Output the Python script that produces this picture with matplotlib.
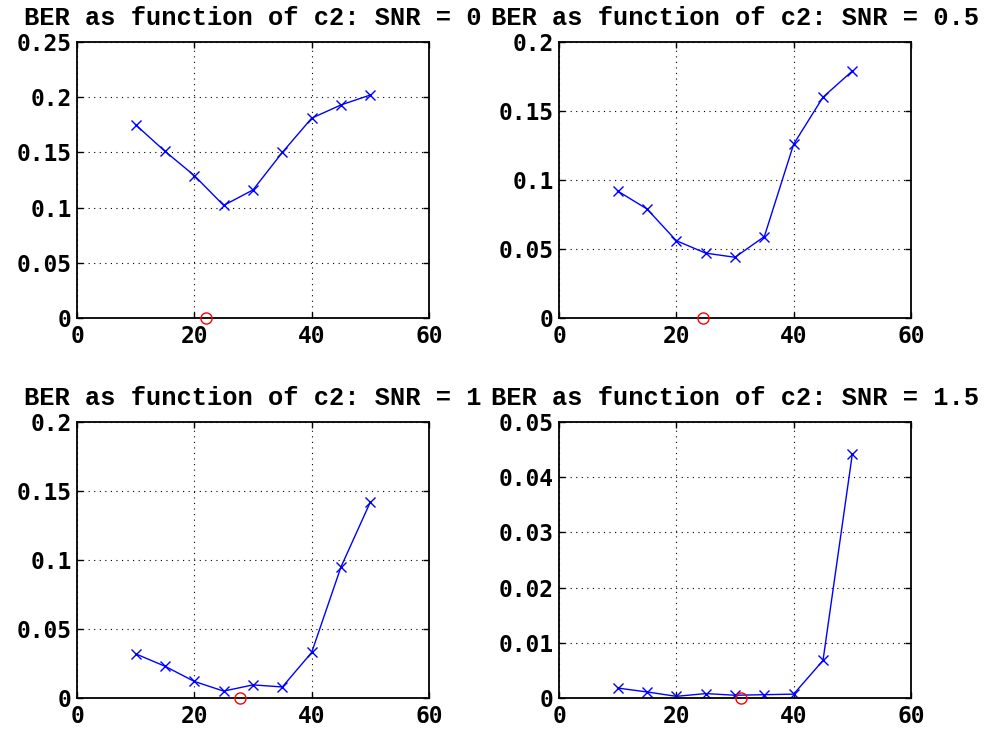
import matplotlib
matplotlib.use("Agg")
import matplotlib.pyplot as plt

c2 = [10, 15, 20, 25, 30, 35, 40, 45, 50]
snr_labels = ["0", "0.5", "1", "1.5"]
ber_snr0 = [0.175, 0.151, 0.129, 0.102, 0.116, 0.150, 0.181, 0.193, 0.202]
ber_snr05 = [0.092, 0.079, 0.056, 0.047, 0.044, 0.059, 0.126, 0.160, 0.179]
ber_snr1 = [0.032, 0.023, 0.012, 0.005, 0.0095, 0.008, 0.033, 0.095, 0.142]
ber_snr15 = [0.0018, 0.0011, 0.0003, 0.0008, 0.0005, 0.0006, 0.0007, 0.0068, 0.0442]
best_c2 = [22.0, 24.6, 27.7, 31.0]
ylims = [0.25, 0.2, 0.2, 0.05]
yticks = [
    [0, 0.05, 0.1, 0.15, 0.2, 0.25],
    [0, 0.05, 0.1, 0.15, 0.2],
    [0, 0.05, 0.1, 0.15, 0.2],
    [0, 0.01, 0.02, 0.03, 0.04, 0.05],
]
ytick_labels = [
    ["0", "0.05", "0.1", "0.15", "0.2", "0.25"],
    ["0", "0.05", "0.1", "0.15", "0.2"],
    ["0", "0.05", "0.1", "0.15", "0.2"],
    ["0", "0.01", "0.02", "0.03", "0.04", "0.05"],
]
xticks = [0, 20, 40, 60]
series = [ber_snr0, ber_snr05, ber_snr1, ber_snr15]

fig = plt.figure(figsize=(9.9, 7.32), dpi=100)
W, H = 990, 732
boxes = [(77, 42), (559, 42), (77, 422), (559, 422)]
aw, ah = 352, 276

tick_font = dict(family=["DejaVu Sans Mono"], weight="bold", size=16.5)
title_font = dict(family=["Liberation Mono"], weight="bold", size=18.3)

for i in range(4):
    l, t = boxes[i]
    ax = fig.add_axes([l / W, 1 - (t + ah) / H, aw / W, ah / H])
    ax.plot(c2, series[i], color="blue", marker="x", markersize=7,
            linewidth=1, markeredgewidth=1)
    ax.plot([best_c2[i]], [0], marker="o", markersize=8, markerfacecolor="none",
            markeredgecolor="red", linestyle="none", clip_on=False, zorder=5)
    ax.set_xlim(0, 60)
    ax.set_ylim(0, ylims[i])
    ax.set_xticks(xticks)
    ax.set_xticklabels([str(v) for v in xticks], **tick_font)
    ax.set_yticks(yticks[i])
    ax.set_yticklabels(ytick_labels[i], **tick_font)
    ax.grid(True, color="black", linestyle=(0, (1, 4)), linewidth=0.8)
    ax.tick_params(direction="in", top=True, right=True, length=4, width=1)
    ax.tick_params(axis="x", pad=5)
    ax.tick_params(axis="y", pad=4)
    for s in ax.spines.values():
        s.set_linewidth(1.3)
    ax.set_title("BER as function of c2: SNR = " + snr_labels[i], pad=12,
                 **title_font)

fig.savefig("out.png", dpi=100)
